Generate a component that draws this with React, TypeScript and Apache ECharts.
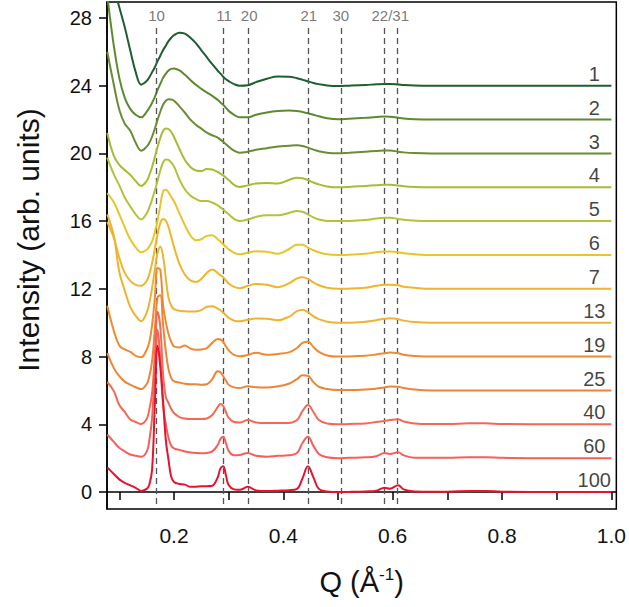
import React, { useEffect, useRef } from 'react';
import * as echarts from 'echarts';

// Q grid (Å^-1)
const Q = [0.078, 0.09, 0.10, 0.11, 0.12, 0.13, 0.14, 0.15, 0.155, 0.16, 0.165, 0.17, 0.175, 0.18, 0.185, 0.19, 0.195, 0.20,
  0.21, 0.22, 0.23, 0.24, 0.25, 0.26, 0.27, 0.28, 0.285, 0.29, 0.295, 0.30, 0.31, 0.32, 0.335, 0.35, 0.37, 0.39, 0.41,
  0.425, 0.435, 0.445, 0.455, 0.465, 0.48, 0.50, 0.52, 0.55, 0.57, 0.585, 0.595, 0.61, 0.62, 0.64, 0.67, 0.70, 0.74, 0.77, 0.80, 0.90, 1.00];

const LABELS = ['1', '2', '3', '4', '5', '6', '7', '13', '19', '25', '40', '60', '100'];
const OFFSETS = [24, 22, 20, 18, 16, 14, 12, 10, 8, 6, 4, 2, 0];
const COLORS = ['#1f5d33', '#5e8a2e', '#6b8c33', '#a9bb34', '#b3c23a', '#e6c62a', '#f0b52a', '#eeb333', '#f08a30', '#ee8436', '#f26a55', '#f45f5a', '#e8122e'];

// intensities relative to each curve's baseline
const S1 = [7.2, 5.8, 4.63, 3.45, 2.09, 0.8, 0.06, 0.27, 0.5, 0.8, 1.09, 1.45, 1.77, 2.09, 2.36, 2.63, 2.83, 2.98,
  3.13, 3.07, 2.83, 2.51, 2.09, 1.68, 1.27, 0.88, 0.71, 0.53, 0.38, 0.27, 0.09, 0, 0.03, 0.21, 0.41, 0.54, 0.53,
  0.44, 0.35, 0.25, 0.16, 0.09, 0.01, -0.02, 0, 0.04, 0.08, 0.1, 0.1, 0.07, 0.04, 0.01, 0, 0, 0, 0, 0, 0, 0];
const S2 = [7.3, 4.35, 2.46, 1.28, 0.63, 0.28, 0.13, 0.45, 0.69, 0.99, 1.34, 1.75, 2.1, 2.46, 2.7, 2.9, 2.99, 3.02,
  2.9, 2.64, 2.34, 2.05, 1.81, 1.6, 1.4, 1.16, 1.01, 0.87, 0.69, 0.51, 0.28, 0.13, 0.13, 0.28, 0.42, 0.51, 0.54,
  0.51, 0.44, 0.37, 0.28, 0.19, 0.07, 0.01, 0.04, 0.1, 0.15, 0.18, 0.17, 0.1, 0.06, 0.02, 0, 0, 0, 0, 0, 0, 0];
const S3 = [6.0, 4.05, 2.58, 1.75, 1.34, 0.63, 0.16, 0.4, 0.63, 0.99, 1.46, 1.99, 2.46, 2.87, 3.11, 3.2, 3.18, 3.11,
  2.78, 2.4, 1.99, 1.69, 1.46, 1.22, 1.07, 0.93, 0.81, 0.69, 0.54, 0.4, 0.16, 0.04, 0.1, 0.22, 0.31, 0.4, 0.45,
  0.48, 0.44, 0.34, 0.22, 0.13, 0.04, 0.01, 0.04, 0.1, 0.14, 0.17, 0.17, 0.1, 0.06, 0.02, 0, 0, 0, 0, 0, 0, 0];
const S4 = [3.2, 1.85, 1.32, 1.02, 0.73, 0.37, 0.08, 0.37, 0.73, 1.2, 1.79, 2.38, 2.91, 3.32, 3.47, 3.44, 3.26, 2.97,
  2.26, 1.61, 1.2, 0.99, 0.96, 1.08, 1.05, 0.9, 0.81, 0.7, 0.56, 0.43, 0.14, 0.02, 0.11, 0.22, 0.25, 0.22, 0.43,
  0.56, 0.53, 0.43, 0.28, 0.17, 0.05, 0, 0.02, 0.08, 0.12, 0.15, 0.15, 0.11, 0.06, 0.02, 0, 0, 0, 0, 0, 0, 0];
const S5 = [3.75, 2.76, 2.11, 1.4, 0.87, 0.4, 0.1, 0.45, 0.81, 1.28, 1.81, 2.4, 2.99, 3.46, 3.64, 3.61, 3.46, 3.23,
  2.46, 1.87, 1.52, 1.31, 1.19, 1.19, 1.1, 0.93, 0.81, 0.69, 0.54, 0.4, 0.13, 0.01, 0.1, 0.25, 0.34, 0.34, 0.48,
  0.6, 0.55, 0.4, 0.22, 0.1, 0.01, 0, 0.01, 0.07, 0.15, 0.2, 0.2, 0.13, 0.08, 0.03, 0, 0, 0, 0, 0, 0, 0];
const S6 = [3.65, 3.11, 2.4, 1.63, 0.93, 0.45, 0.16, 0.31, 0.51, 0.81, 1.34, 2.05, 2.93, 3.76, 3.85, 3.7, 3.43, 3.17,
  2.46, 1.75, 1.16, 0.87, 0.93, 1.13, 1.16, 0.93, 0.78, 0.63, 0.48, 0.34, 0.13, 0.04, 0.13, 0.22, 0.19, 0.07, 0.34,
  0.6, 0.6, 0.44, 0.28, 0.16, 0.04, 0, 0.01, 0.07, 0.16, 0.2, 0.2, 0.16, 0.1, 0.04, 0, 0, 0, 0, 0, 0, 0];
const S7 = [3.95, 3.01, 1.83, 0.94, 0.47, 0.24, 0.18, 0.47, 0.88, 1.53, 2.36, 3.24, 3.89, 4.13, 4.04, 3.66, 3.07, 2.48,
  1.47, 0.83, 0.5, 0.41, 0.59, 0.94, 1.15, 0.94, 0.8, 0.68, 0.5, 0.32, 0.12, 0.04, 0.18, 0.28, 0.24, 0.1, 0.32,
  0.62, 0.69, 0.59, 0.38, 0.21, 0.06, 0, 0.01, 0.07, 0.18, 0.24, 0.25, 0.21, 0.13, 0.06, 0, 0, 0, 0, 0, 0, 0];
const S13 = [6.4, 5.13, 3.01, 1.89, 0.94, 0.41, 0.09, 0.59, 1.18, 2.06, 3.13, 4.13, 4.48, 3.95, 2.65, 1.47, 1.0, 0.8,
  0.71, 0.68, 0.67, 0.67, 0.74, 0.94, 0.97, 0.83, 0.74, 0.59, 0.44, 0.29, 0.12, 0.08, 0.18, 0.25, 0.24, 0.15, 0.35,
  0.68, 0.77, 0.62, 0.38, 0.21, 0.06, 0, 0, 0.06, 0.15, 0.23, 0.26, 0.21, 0.13, 0.04, 0, 0, 0, 0, 0, 0, 0];
const S19 = [3.0, 1.52, 0.66, 0.42, 0.28, 0.04, -0.04, 0.4, 0.87, 1.87, 3.46, 5.23, 5.12, 3.05, 2.05, 1.34, 0.87, 0.6,
  0.54, 0.66, 0.48, 0.4, 0.42, 0.5, 0.81, 1.04, 1.01, 0.87, 0.6, 0.37, 0.1, 0.02, 0.1, 0.22, 0.11, 0.16, 0.25,
  0.51, 0.81, 0.88, 0.57, 0.28, 0.07, 0, 0.01, 0.05, 0.13, 0.2, 0.24, 0.2, 0.11, 0.04, 0, 0, 0, 0, 0, 0, 0];
const S25 = [2.2, 1.32, 0.84, 0.52, 0.34, 0.19, 0.08, 0.37, 0.84, 1.73, 3.62, 5.5, 5.62, 3.91, 2.32, 1.26, 0.73, 0.55,
  0.47, 0.4, 0.37, 0.37, 0.34, 0.37, 0.67, 1.14, 1.08, 0.84, 0.58, 0.34, 0.18, 0.14, 0.25, 0.19, 0.18, 0.25, 0.4,
  0.67, 0.9, 0.87, 0.49, 0.22, 0.08, 0.02, 0.02, 0.05, 0.11, 0.18, 0.23, 0.22, 0.14, 0.05, 0, 0, 0, 0, 0, 0, 0];
const S40 = [2.5, 1.96, 1.14, 0.73, 0.28, 0.14, 0.02, 0.31, 0.9, 1.85, 4.15, 6.63, 5.74, 2.97, 1.61, 1.26, 0.9, 0.67,
  0.43, 0.34, 0.31, 0.31, 0.31, 0.34, 0.55, 1.02, 1.2, 1.08, 0.73, 0.4, 0.14, 0.11, 0.25, 0.11, 0.08, 0.08, 0.08,
  0.25, 0.78, 1.14, 0.73, 0.25, 0.05, 0, 0.02, 0.05, 0.14, 0.2, 0.25, 0.3, 0.17, 0.05, 0.02, 0.02, 0.06, 0.06, 0.02, 0, 0];
const S60 = [1.4, 0.96, 0.61, 0.4, 0.22, 0.14, 0.09, 0.37, 1.08, 2.38, 5.33, 7.57, 5.8, 3.14, 2.02, 1.2, 0.73, 0.58,
  0.49, 0.4, 0.34, 0.31, 0.29, 0.31, 0.4, 0.78, 1.14, 1.26, 0.9, 0.43, 0.17, 0.19, 0.31, 0.14, 0.09, 0.14, 0.17,
  0.31, 0.9, 1.26, 0.73, 0.25, 0.05, 0, 0.02, 0.05, 0.12, 0.3, 0.25, 0.35, 0.17, 0.03, 0.02, 0.02, 0.06, 0.06, 0.02, 0, 0];
const S100 = [1.45, 1.07, 0.75, 0.54, 0.4, 0.25, 0.07, 0.19, 0.45, 1.34, 5.17, 8.65, 7.4, 5.4, 3.1, 1.9, 0.9, 0.6,
  0.48, 0.44, 0.31, 0.32, 0.34, 0.34, 0.37, 0.87, 1.4, 1.52, 0.99, 0.42, 0.16, 0.13, 0.31, 0.1, 0.06, 0.08, 0.11,
  0.19, 0.81, 1.52, 0.87, 0.19, 0.04, 0, 0.01, 0.04, 0.08, 0.26, 0.2, 0.4, 0.16, 0.04, 0.02, 0.02, 0.07, 0.07, 0.02, 0, 0];

const CURVES = [S1, S2, S3, S4, S5, S6, S7, S13, S19, S25, S40, S60, S100];

// reflection positions (dashed lines) and their labels
const PEAK_Q = [0.1676, 0.2908, 0.3365, 0.4455, 0.5053, 0.5845, 0.609];
const PEAK_LABELS = ['10', '11', '20', '21', '30', '22/31'];
const PEAK_LABEL_Q = [0.168, 0.2915, 0.3375, 0.4465, 0.505, 0.5955];

const X_TICKS = [0.1, 0.2, 0.3, 0.4, 0.5, 0.6, 0.7, 0.8, 0.9, 1.0];
const X_LABELS = [0.2, 0.4, 0.6, 0.8, 1.0];
const Y_TICKS = [0, 4, 8, 12, 16, 20, 24, 28];

const FONT = '"Liberation Sans", Arial, Helvetica, sans-serif';

export default function App() {
  const ref = useRef<HTMLDivElement>(null);
  useEffect(() => {
    if (!ref.current) return;
    const chart = echarts.init(ref.current, undefined, { renderer: 'svg' });
    const curveSeries = CURVES.map((vals, i) => ({
      type: 'line',
      name: LABELS[i],
      data: Q.map((q, j) => [q, vals[j] + OFFSETS[i]]),
      smooth: 0.4,
      symbol: 'none',
      lineStyle: { color: COLORS[i], width: 2 },
      z: 3 + i,
      silent: true,
    }));
    const option = {
      animation: false,
      grid: { left: 107, right: 12, top: 2, bottom: 98, show: true, borderColor: '#000', borderWidth: 1.5, containLabel: false },
      xAxis: {
        type: 'value', min: 0.0775, max: 1.009,
        axisLine: { show: true, lineStyle: { color: '#000', width: 1.5 } },
        axisTick: { show: true, inside: false, length: 8, lineStyle: { color: '#000', width: 1.5 }, customValues: X_TICKS },
        axisLabel: { customValues: X_LABELS, formatter: (v: number) => v.toFixed(1), color: '#111', fontSize: 21, fontFamily: FONT, margin: 16 },
        splitLine: { show: false },
        name: 'Q (Å{sup|-1})',
        nameLocation: 'middle',
        nameGap: 57,
        nameTextStyle: {
          color: '#111', fontSize: 29, fontFamily: FONT,
          rich: { sup: { fontSize: 17, verticalAlign: 'top', padding: [0, 0, 14, 0], fontFamily: FONT, color: '#111' } },
        },
      },
      yAxis: {
        type: 'value', min: -1, max: 28.94,
        axisLine: { show: true, lineStyle: { color: '#000', width: 1.5 } },
        axisTick: { show: true, inside: false, length: 8, lineStyle: { color: '#000', width: 1.5 }, customValues: Y_TICKS },
        axisLabel: { customValues: Y_TICKS, color: '#111', fontSize: 20, fontFamily: FONT, margin: 15 },
        splitLine: { show: false },
      },
      graphic: [
        {
          type: 'text', x: 28, y: 240, rotation: Math.PI / 2,
          style: { text: 'Intensity (arb. units)', fontSize: 30, fontFamily: FONT, fill: '#111', textAlign: 'center', textVerticalAlign: 'middle' },
        },
      ],
      series: [
        {
          type: 'line', data: [], silent: true,
          markLine: {
            silent: true, symbol: 'none', label: { show: false },
            lineStyle: { color: '#555', width: 1.3, type: [6, 4] },
            data: PEAK_Q.map((q) => [{ coord: [q, 27.4] }, { coord: [q, -1] }]),
          },
          z: 2,
        },
        ...curveSeries,
        {
          type: 'scatter', silent: true, symbolSize: 1, itemStyle: { color: 'rgba(0,0,0,0)' },
          data: PEAK_LABEL_Q.map((q) => [q, 28.15]),
          label: { show: true, position: 'inside', formatter: (p: any) => PEAK_LABELS[p.dataIndex], color: '#555', fontSize: 15, fontFamily: FONT },
          z: 20,
        },
        {
          type: 'scatter', silent: true, symbolSize: 1, itemStyle: { color: 'rgba(0,0,0,0)' },
          data: OFFSETS.map((o) => [0.9687, o + 0.7]),
          label: { show: true, position: 'inside', formatter: (p: any) => LABELS[p.dataIndex], color: '#111', fontSize: 20, fontFamily: FONT },
          z: 20,
        },
      ],
    };
    chart.setOption(option as any);
    return () => chart.dispose();
  }, []);
  return <div ref={ref} style={{ position: 'fixed', left: 0, top: 0, width: 629, height: 607, background: '#fff' }} />;
}
